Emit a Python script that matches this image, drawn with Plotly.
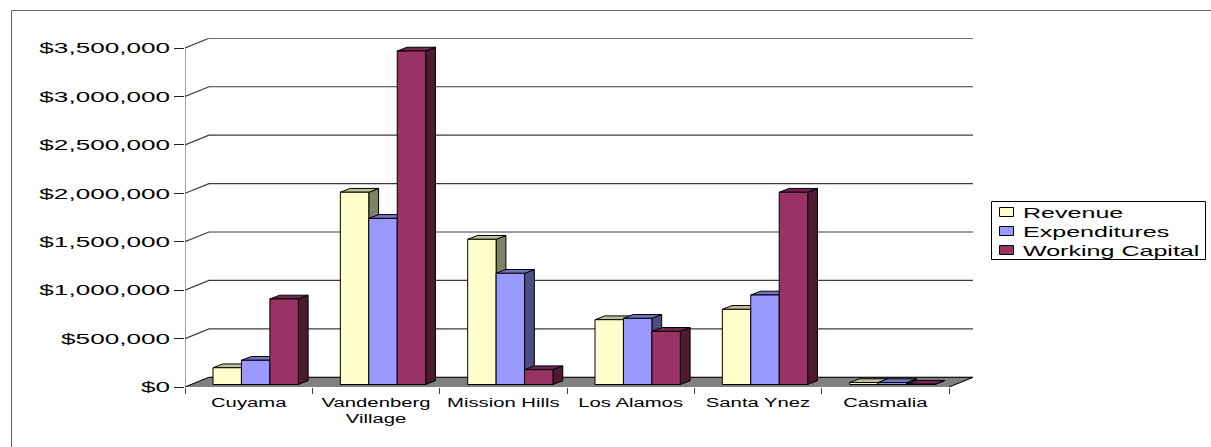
import numpy as np
import plotly.graph_objects as go

# Budget figures per community service area
categories = ["Cuyama", "Vandenberg<br>Village", "Mission Hills", "Los Alamos", "Santa Ynez", "Casmalia"]
revenue = [173000, 1985000, 1499000, 669000, 776000, 20000]
expenditures = [250000, 1715000, 1148000, 683000, 924000, 20000]
working_capital = [883000, 3443000, 153000, 549000, 1985000, 3000]
value_ticks = [0, 500000, 1000000, 1500000, 2000000, 2500000, 3000000, 3500000]

series_names = ["Revenue", "Expenditures", "Working Capital"]
series_values = [revenue, expenditures, working_capital]
front_colors = ["#FFFFCC", "#9999FF", "#993366"]
side_colors = ["#808066", "#4D4D80", "#4D1933"]
top_colors = ["#BFBF99", "#7373BF", "#732650"]

WIDTH, HEIGHT = 1211, 447

# Plot box in pixels and the oblique depth of the floor
LEFT, BOTTOM, AXIS_TOP, FRONT_RIGHT = 185.0, 387.0, 48.0, 949.0
DEPTH_X_PX, DEPTH_Y_PX = 24.0, 9.7
BAR_INSET_X_PX, BAR_INSET_Y_PX = 7.0, 2.5
BAR_DEPTH_X_PX, BAR_DEPTH_Y_PX = 9.8, 3.8
GAP_WIDTH = 0.33

n = len(categories)
px_per_cat = (FRONT_RIGHT - LEFT) / n
px_per_val = (BOTTOM - AXIS_TOP) / value_ticks[-1]
depth_x = DEPTH_X_PX / px_per_cat
depth_y = DEPTH_Y_PX / px_per_val
inset_x = BAR_INSET_X_PX / px_per_cat
inset_y = BAR_INSET_Y_PX / px_per_val
bd_x = BAR_DEPTH_X_PX / px_per_cat
bd_y = BAR_DEPTH_Y_PX / px_per_val
x_range = [0, n + depth_x]
y_range = [0, value_ticks[-1] + depth_y]

dom_x = [LEFT / WIDTH, (FRONT_RIGHT + DEPTH_X_PX) / WIDTH]
dom_y = [1 - BOTTOM / HEIGHT, 1 - (AXIS_TOP - DEPTH_Y_PX) / HEIGHT]

centers = np.arange(n) + 0.5
fig = go.Figure()

# Floor of the chart box
fig.add_trace(go.Scatter(
    x=[0, n, n + depth_x, depth_x, 0], y=[0, 0, depth_y, depth_y, 0],
    mode="lines", fill="toself", fillcolor="#808080",
    line=dict(color="#808080", width=1), showlegend=False, hoverinfo="skip"))
fig.add_trace(go.Scatter(
    x=[0, depth_x, n + depth_x, None, n, n + depth_x], y=[0, depth_y, depth_y, None, 0, depth_y],
    mode="lines", line=dict(color="#000000", width=1), showlegend=False, hoverinfo="skip"))

# Gridlines run up the side wall and along the back wall
grid_x, grid_y = [], []
for v in value_ticks[1:]:
    grid_x += [0, depth_x, n + depth_x, None]
    grid_y += [v, v + depth_y, v + depth_y, None]
fig.add_trace(go.Scatter(x=grid_x, y=grid_y, mode="lines",
                         line=dict(color="#3c3c3c", width=1.2), showlegend=False, hoverinfo="skip"))
fig.add_trace(go.Scatter(x=[0, 0], y=[0, value_ticks[-1]], mode="lines",
                         line=dict(color="#505050", width=1), showlegend=False, hoverinfo="skip"))

# Side and top faces of each bar, derived from the bar's value
group_width = 1 - GAP_WIDTH
bar_width = group_width / len(series_values)
for s, values in enumerate(series_values):
    for c, v in zip(centers, values):
        x0 = c - group_width / 2 + s * bar_width + inset_x
        x1 = x0 + bar_width
        y0 = inset_y
        y1 = v + inset_y
        fig.add_trace(go.Scatter(
            x=[x1, x1 + bd_x, x1 + bd_x, x1, x1], y=[y0, y0 + bd_y, y1 + bd_y, y1, y0],
            mode="lines", fill="toself", fillcolor=side_colors[s],
            line=dict(color="#000000", width=1), showlegend=False, hoverinfo="skip"))
        fig.add_trace(go.Scatter(
            x=[x0, x1, x1 + bd_x, x0 + bd_x, x0], y=[y1, y1, y1 + bd_y, y1 + bd_y, y1],
            mode="lines", fill="toself", fillcolor=top_colors[s],
            line=dict(color="#000000", width=1), showlegend=False, hoverinfo="skip"))

# Front faces, on an overlaid axis pair whose ranges nudge them back from the floor edge
for name, values, color in zip(series_names, series_values, front_colors):
    fig.add_trace(go.Bar(x=centers, y=values, name=name, xaxis="x2", yaxis="y2", showlegend=False,
                         marker=dict(color=color, line=dict(color="#000000", width=1))))

# Legend box drawn in page coordinates
LEG_X0, LEG_X1, LEG_Y0, LEG_Y1 = 991.5, 1205.5, 201.5, 259.5
ROW_Y = [212.0, 231.0, 250.0]
shapes = [
    dict(type="line", xref="paper", yref="paper", x0=11.5 / WIDTH, x1=1, y0=1 - 10.5 / HEIGHT, y1=1 - 10.5 / HEIGHT,
         line=dict(color="#606060", width=1)),
    dict(type="line", xref="paper", yref="paper", x0=11.5 / WIDTH, x1=11.5 / WIDTH, y0=0, y1=1 - 10.5 / HEIGHT,
         line=dict(color="#606060", width=1)),
    dict(type="rect", xref="paper", yref="paper", x0=LEG_X0 / WIDTH, x1=LEG_X1 / WIDTH,
         y0=1 - LEG_Y1 / HEIGHT, y1=1 - LEG_Y0 / HEIGHT, fillcolor="#FFFFFF",
         line=dict(color="#000000", width=1)),
]
annotations = []
for name, color, ry in zip(series_names, front_colors, ROW_Y):
    shapes.append(dict(type="rect", xref="paper", yref="paper", x0=999.5 / WIDTH, x1=1013.5 / WIDTH,
                       y0=1 - (ry + 4.5) / HEIGHT, y1=1 - (ry - 4.5) / HEIGHT, fillcolor=color,
                       line=dict(color="#000000", width=1)))
    annotations.append(dict(text=name, xref="paper", yref="paper", x=1021.5 / WIDTH, y=1 - ry / HEIGHT,
                            xanchor="left", yanchor="middle", align="left", showarrow=False,
                            borderpad=0, font=dict(size=15)))

fig.update_layout(
    width=WIDTH, height=HEIGHT,
    margin=dict(l=0, r=0, t=0, b=0),
    paper_bgcolor="#FFFFFF", plot_bgcolor="#FFFFFF",
    barmode="group", bargap=GAP_WIDTH, bargroupgap=0, showlegend=False,
    font=dict(family="Liberation Sans", color="#000000", size=15),
    xaxis=dict(domain=dom_x, range=x_range, showgrid=False, zeroline=False, showline=False, automargin=False,
               tickmode="array", tickvals=centers, ticktext=categories, ticks="",
               tickfont=dict(size=12.5), ticklabelstandoff=6, tickangle=0,
               minor=dict(tickmode="array", tickvals=list(range(n + 1)), ticks="outside",
                          ticklen=6, tickcolor="#404040", tickwidth=1, showgrid=False)),
    yaxis=dict(domain=dom_y, range=y_range, showgrid=False, zeroline=False, showline=False, automargin=False,
               tickmode="array", tickvals=value_ticks, tickformat="$,.0f", ticks="outside",
               ticklen=10, tickcolor="#202020", tickwidth=1, tickfont=dict(size=15), ticklabelstandoff=1),
    xaxis2=dict(range=[x_range[0] - inset_x, x_range[1] - inset_x], overlaying="x", anchor="y2",
                visible=False, automargin=False),
    yaxis2=dict(range=[y_range[0] - inset_y, y_range[1] - inset_y], overlaying="y", anchor="x2",
                visible=False, automargin=False),
    shapes=shapes,
    annotations=annotations,
)

# The labels use a wide letterform: stretch each text run horizontally
stretch_js = """
var stretch = function (sel, k) {
  document.querySelectorAll(sel).forEach(function (t) {
    var runs = t.querySelectorAll('tspan.line');
    (runs.length ? runs : [t]).forEach(function (r) {
      r.setAttribute('textLength', r.getComputedTextLength() * k);
      r.setAttribute('lengthAdjust', 'spacingAndGlyphs');
    });
  });
};
stretch('.ytick text', 1.74);
stretch('.xtick text', 1.62);
stretch('.annotation-text', 1.67);
"""
fig.write_html("out.html", post_script=stretch_js)
